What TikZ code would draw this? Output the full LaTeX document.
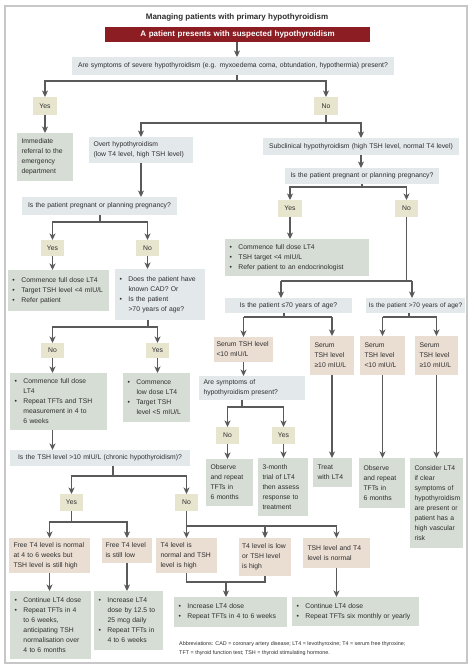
\documentclass[tikz,border=0pt]{standalone}
\usepackage{fontspec}
\setmainfont{Liberation Sans}
\usetikzlibrary{arrows.meta}
\definecolor{qcol}{HTML}{E3E8EB}
\definecolor{yncol}{HTML}{E8E5CF}
\definecolor{actcol}{HTML}{D6DDD4}
\definecolor{pinkcol}{HTML}{EADDD2}
\definecolor{redcol}{HTML}{8C1D22}
\definecolor{lncol}{HTML}{5A5A5A}
\definecolor{txtcol}{HTML}{2E2E2E}
\newcommand{\boxat}[8][4.5]{\pgfmathsetmacro{\bxw}{#6-#4-2*#1}\pgfmathsetmacro{\bxh}{#7-#5}%
\node[#2, inner xsep=#1pt, anchor=north west, text width=\bxw pt, minimum height=\bxh pt] (#3) at (#4,#5) {#8};}
\newcommand{\bu}{\makebox[9pt][l]{\textbullet}}
\newcommand{\ind}{\hspace*{9pt}}
\begin{document}
\begin{tikzpicture}[x=1pt,y=-1pt,
  base/.style={inner ysep=0pt, outer sep=0pt, align=left, font=\fontsize{6.8}{10}\selectfont, text=txtcol},
  qbox/.style={base, fill=qcol},
  qcbox/.style={base, fill=qcol, align=center},
  ynbox/.style={base, fill=yncol, align=center},
  actbox/.style={base, fill=actcol},
  pbox/.style={base, fill=pinkcol},
  redbox/.style={base, fill=redcol, text=white, align=center, font=\bfseries\fontsize{8}{10}\selectfont},
  ln/.style={draw=lncol, line width=1.5pt},
  arr/.style={ln, -{Stealth[length=6.5pt,width=6pt,inset=1.8pt]}}]
\useasboundingbox (0,0) rectangle (474,670);
\fill[white] (0,0) rectangle (474,670);
\draw[black!22, line width=1.2pt] (5,6) rectangle (467,663);

\node[font=\bfseries\fontsize{8}{10}\selectfont, text=txtcol] (title) at (237,17) {Managing patients with primary hypothyroidism};
\boxat{redbox}{banner}{105}{27}{370}{42}{A patient presents with suspected hypothyroidism}
\boxat{qcbox}{q1}{72}{57}{394}{75}{Are symptoms of severe hypothyroidism (e.g. myxoedema coma, obtundation, hypothermia) present?}
\boxat{ynbox}{yes1}{33}{97}{57}{115}{Yes}
\boxat{ynbox}{no1}{314}{97}{338}{115}{No}
\boxat{actbox}{imm}{17}{133}{73}{181}{Immediate\\referral to the\\emergency\\department}
\boxat{qbox}{overt}{89}{137}{193}{163}{Overt hypothyroidism\\(low T4 level, high TSH level)}
\boxat{qcbox}{sub}{263}{138}{459}{155}{Subclinical hypothyroidism (high TSH level, normal T4 level)}
\boxat[3]{qcbox}{pregl}{22}{197}{177}{215}{Is the patient pregnant or planning pregnancy?}
\boxat[3]{qcbox}{pregr}{285}{168}{439}{184}{Is the patient pregnant or planning pregnancy?}
\boxat{ynbox}{yes2}{41}{240}{64}{256}{Yes}
\boxat{ynbox}{no2}{136}{240}{159}{256}{No}
\boxat{ynbox}{yesr}{278}{200}{302}{217}{Yes}
\boxat{ynbox}{nor}{395}{200}{418}{217}{No}
\boxat{actbox}{comml}{8}{270}{109}{311}{\bu Commence full dose LT4\\\bu Target TSH level <4 mIU/L\\\bu Refer patient}
\boxat{qbox}{cad}{115}{269}{205}{320}{\bu Does the patient have\\\ind known CAD? Or\\\bu Is the patient\\\ind >70 years of age?}
\boxat{actbox}{commr}{225}{239}{369}{276}{\bu Commence full dose LT4\\\bu TSH target <4 mIU/L\\\bu Refer patient to an endocrinologist}
\boxat{qcbox}{le70}{225}{298}{352}{313}{Is the patient ≤70 years of age?}
\boxat[1.5]{qcbox, font=\fontsize{6.5}{10}\selectfont}{gt70}{366}{298}{465}{313}{Is the patient >70 years of age?}
\boxat{ynbox}{no3}{41}{343}{64}{358}{No}
\boxat{ynbox}{yes3}{146}{343}{169}{358}{Yes}
\boxat{actbox}{full}{10}{373}{107}{430}{\bu Commence full dose\\\ind LT4\\\bu Repeat TFTs and TSH\\\ind measurement in 4 to\\\ind 6 weeks}
\boxat{actbox}{low}{123}{373}{190}{422}{\bu Commence\\\ind low dose LT4\\\bu Target TSH\\\ind level <5 mIU/L}
\boxat{qcbox}{tsh10}{10}{450}{190}{466}{Is the TSH level >10 mIU/L (chronic hypothyroidism)?}
\boxat{ynbox}{yes4}{60}{494}{83}{511}{Yes}
\boxat{ynbox}{no4}{175}{494}{198}{511}{No}
\boxat{pbox}{freen}{9}{538}{90}{573}{Free T4 level is normal\\at 4 to 6 weeks but\\TSH level is still high}
\boxat[3.5]{pbox}{freel}{102}{538}{152}{563}{Free T4 level\\is still low}
\boxat{pbox}{t4n}{156}{538}{217}{573}{T4 level is\\normal and TSH\\level is high}
\boxat[3]{pbox}{t4l}{239}{538}{291}{576}{T4 level is low\\or TSH level\\is high}
\boxat{pbox}{tshn}{303}{538}{370}{568}{TSH level and T4\\level is normal}
\boxat{actbox}{contl}{10}{591}{91}{659}{\bu Continue LT4 dose\\\bu Repeat TFTs in 4\\\ind to 6 weeks,\\\ind anticipating TSH\\\ind normalisation over\\\ind 4 to 6 months}
\boxat{actbox}{incd}{94}{591}{163}{650}{\bu Increase LT4\\\ind dose by 12.5 to\\\ind 25 mcg daily\\\bu Repeat TFTs in\\\ind 4 to 6 weeks}
\boxat{actbox}{inc}{174}{597}{287}{627}{\bu Increase LT4 dose\\\bu Repeat TFTs in 4 to 6 weeks}
\boxat{actbox}{conty}{292}{597}{419}{626}{\bu Continue LT4 dose\\\bu Repeat TFTs six monthly or yearly}
\boxat[2.5]{pbox}{s1}{214}{337}{273}{362}{Serum TSH level\\<10 mIU/L}
\boxat{pbox}{s2}{310}{336}{354}{375}{Serum\\TSH level\\≥10 mIU/L}
\boxat{pbox}{s3}{360}{336}{405}{375}{Serum\\TSH level\\<10 mIU/L}
\boxat{pbox}{s4}{415}{336}{458}{375}{Serum\\TSH level\\≥10 mIU/L}
\boxat{qbox}{aresym}{199}{376}{305}{400}{Are symptoms of\\hypothyroidism present?}
\boxat{ynbox}{nos}{216}{427}{239}{444}{No}
\boxat{ynbox}{yess}{272}{427}{295}{444}{Yes}
\boxat{actbox}{obs1}{206}{459}{253}{506}{Observe\\and repeat\\TFTs in\\6 months}
\boxat{actbox}{trial}{258}{458}{308}{516}{3-month\\trial of LT4\\then assess\\response to\\treatment}
\boxat{actbox}{treat}{313}{458}{352}{487}{Treat\\with LT4}
\boxat{actbox}{obs2}{359}{458}{405}{508}{Observe\\and repeat\\TFTs in\\6 months}
\boxat{actbox}{consider}{410}{458}{463}{548}{Consider LT4\\if clear\\symptoms of\\hypothyroidism\\are present or\\patient has a\\high vascular\\risk}
\node[anchor=north west, align=left, inner sep=0pt, text=txtcol, font=\fontsize{5.4}{9}\selectfont] (abbr) at (179,641) {Abbreviations: CAD = coronary artery disease; LT4 = levothyroxine; T4 = serum free thyroxine;\\TFT = thyroid function test; TSH = thyroid stimulating hormone.};

% connectors
\coordinate (j1) at (237,81);
\draw[arr] (banner.south -| j1) -- (q1.north -| j1);
\draw[ln] (q1.south -| j1) -- (j1);
\draw[arr] (j1) -| (yes1.north);
\draw[arr] (j1) -| (no1.north);
\draw[arr] (yes1.south) -- (imm.north);
\coordinate (j2) at (326,123);
\draw[ln] (no1.south) -- (no1.south |- j2);
\draw[arr] (no1.south |- j2) -| (overt.north);
\draw[arr] (no1.south |- j2) -| (sub.north);
\draw[arr] (overt.south) -- (overt.south |- pregl.north);
\draw[arr] (sub.south) -- (sub.south |- pregr.north);
% left pregnancy
\coordinate (j3) at (100,222);
\draw[ln] (pregl.south -| j3) -- (j3);
\draw[arr] (j3) -| (yes2.north);
\draw[arr] (j3) -| (no2.north);
\draw[arr] (yes2.south) -- (yes2.south |- comml.north);
\draw[arr] (no2.south) -- (no2.south |- cad.north);
\coordinate (j4) at (148,327);
\draw[ln] (cad.south -| j4) -- (j4);
\draw[arr] (j4) -| (no3.north);
\draw[arr] (j4) -| (yes3.north);
\draw[arr] (no3.south) -- (no3.south |- full.north);
\draw[arr] (yes3.south) -- (yes3.south |- low.north);
\draw[arr] (no3.south |- full.south) -- (no3.south |- tsh10.north);
\coordinate (j5) at (113,476);
\draw[ln] (tsh10.south -| j5) -- (j5);
\draw[arr] (j5) -| (yes4.north);
\draw[arr] (j5) -| (no4.north);
\coordinate (j6) at (71.5,522);
\draw[ln] (yes4.south) -- (j6);
\draw[arr] (j6) -| (freen.north);
\draw[arr] (j6) -| (freel.north);
\coordinate (j7) at (186.5,526);
\draw[arr] (no4.south) -- (t4n.north);
\draw[arr] (j7) -| (t4l.north);
\draw[arr] (j7) -| (tshn.north);
\draw[arr] (freen.south) -- (freen.south |- contl.north);
\draw[arr] (freel.south) -- (freel.south |- incd.north);
\coordinate (j8) at (226,582);
\draw[ln] (t4n.south) |- (t4l.south |- j8) -- (t4l.south);
\draw[arr] (j8) -- (j8 |- inc.north);
\draw[arr] (tshn.south) -- (tshn.south |- conty.north);
% right pregnancy
\coordinate (j9) at (362,187);
\draw[ln] (pregr.south -| j9) -- (j9);
\draw[arr] (j9) -| (yesr.north);
\draw[arr] (j9) -| (nor.north);
\draw[arr] (yesr.south) -- (yesr.south |- commr.north);
\coordinate (jl) at (281,281);
\coordinate (jr) at (412,281);
\draw[ln] (nor.south) -- (nor.south |- jl);
\draw[ln] (jl) -- (jr);
\draw[arr] (jl) -- (jl |- le70.north);
\draw[arr] (jr) -- (jr |- gt70.north);
\coordinate (k1) at (284,317);
\coordinate (k1l) at (243.5,317);
\coordinate (k1r) at (332,317);
\draw[ln] (k1 |- le70.south) -- (k1);
\draw[ln] (k1l) -- (k1r);
\draw[arr] (k1l) -- (k1l |- s1.north);
\draw[arr] (k1r) -- (k1r |- s2.north);
\coordinate (k2) at (409,317);
\coordinate (k2l) at (382.5,317);
\coordinate (k2r) at (436.5,317);
\draw[ln] (k2 |- gt70.south) -- (k2);
\draw[ln] (k2l) -- (k2r);
\draw[arr] (k2l) -- (k2l |- s3.north);
\draw[arr] (k2r) -- (k2r |- s4.north);
\draw[arr] (s1.south) -- (s1.south |- aresym.north);
\coordinate (k3) at (242,407);
\draw[ln] (k3 |- aresym.south) -- (k3);
\draw[arr] (k3) -| (nos.north);
\draw[arr] (k3) -| (yess.north);
\draw[arr] (nos.south) -- (nos.south |- obs1.north);
\draw[arr] (yess.south) -- (yess.south |- trial.north);
\draw[arr] (s2.south) -- (s2.south |- treat.north);
\draw[arr] (s3.south) -- (s3.south |- obs2.north);
\draw[arr] (s4.south) -- (s4.south |- consider.north);
\end{tikzpicture}
\end{document}
